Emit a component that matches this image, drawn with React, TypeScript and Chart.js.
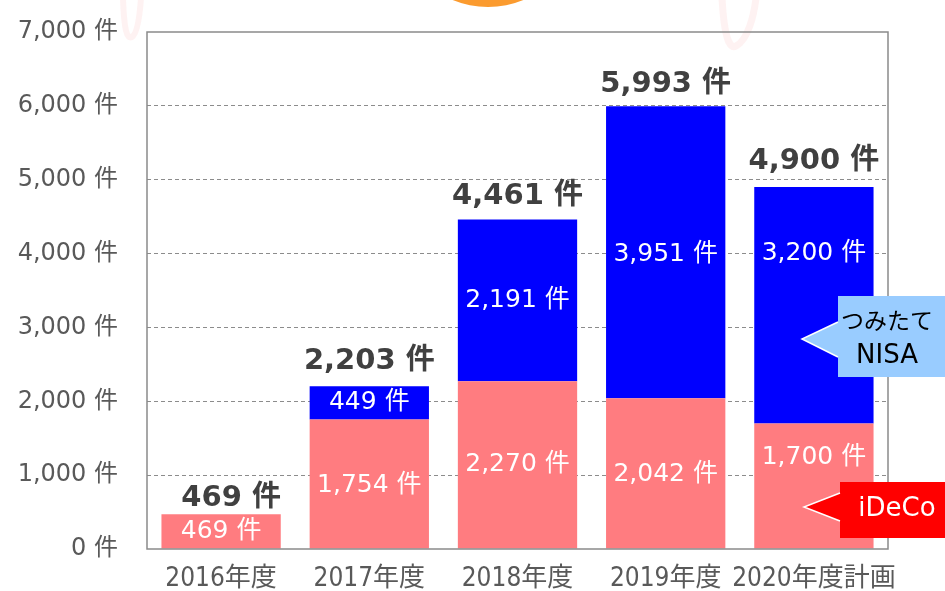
import { useEffect, useRef } from "react";
import { Chart, registerables } from "chart.js";

Chart.register(...registerables);

// ---- data ----
const categories = ["2016年度", "2017年度", "2018年度", "2019年度", "2020年度計画"];
const idecoValues = [469, 1754, 2270, 2042, 1700];
const nisaValues: (number | null)[] = [null, 449, 2191, 3951, 3200];
const totalValues = [469, 2203, 4461, 5993, 4900];
const yTickValues = [0, 1000, 2000, 3000, 4000, 5000, 6000, 7000];
const unit = "件";
const idecoName = "iDeCo";
const nisaNameLines = ["つみたて", "NISA"];

// ---- style ----
const PINK = "#FF7C80";
const BLUE = "#0000FF";
const fmt = (v: number) => v.toLocaleString("en-US") + " " + unit;
const LATIN = "'DejaVu Sans', 'Noto Sans CJK JP', sans-serif";
const innerDy = [
  [0, 2, 0, 1, -28],
  [0, 0, 0, 2, -52],
];
const totalDx = [10, 0, 0, 0, 0];
const totalDy = [-16, -25, -23, -22, -26];

const decorations = {
  id: "decorations",
  beforeDraw(chart: any) {
    const ctx = chart.ctx;
    ctx.save();
    // orange circle at top
    ctx.fillStyle = "#FB9B2F";
    ctx.beginPath();
    ctx.arc(488, -86, 93, 0, Math.PI * 2);
    ctx.fill();
    // faint pink curves
    ctx.strokeStyle = "rgba(250,190,190,0.2)";
    ctx.lineCap = "round";
    ctx.lineWidth = 6;
    ctx.beginPath();
    ctx.moveTo(123, -2);
    ctx.bezierCurveTo(124, 30, 127, 40, 132, 37);
    ctx.bezierCurveTo(138, 33, 140, 12, 141, -2);
    ctx.stroke();
    ctx.lineWidth = 7;
    ctx.beginPath();
    ctx.moveTo(722, -2);
    ctx.bezierCurveTo(724, 35, 729, 50, 736, 46);
    ctx.bezierCurveTo(748, 40, 754, 15, 756, -2);
    ctx.stroke();
    ctx.restore();
  },
};

const frameAndLabels = {
  id: "frameAndLabels",
  afterDatasetsDraw(chart: any) {
    const ctx = chart.ctx;
    const { left, right, top, bottom } = chart.chartArea;
    ctx.save();
    ctx.strokeStyle = "#8a8a8a";
    ctx.lineWidth = 1.5;
    ctx.strokeRect(left, top, right - left, bottom - top);

    ctx.textAlign = "center";
    ctx.textBaseline = "middle";
    ctx.font = "25px " + LATIN;
    ctx.fillStyle = "#FFFFFF";
    chart.data.datasets.forEach((ds: any, di: number) => {
      const meta = chart.getDatasetMeta(di);
      meta.data.forEach((el: any, i: number) => {
        const v = ds.data[i];
        if (v == null) return;
        const p = el.getProps(["x", "y", "base"], true);
        ctx.fillText(fmt(v), p.x, (p.y + p.base) / 2 + innerDy[di][i]);
      });
    });

    ctx.font = "bold 29px " + LATIN;
    ctx.fillStyle = "#404040";
    const xs = chart.scales.x;
    const ys = chart.scales.y;
    totalValues.forEach((t, i) => {
      ctx.fillText(fmt(t), xs.getPixelForValue(i) + totalDx[i], ys.getPixelForValue(t) + totalDy[i]);
    });
    ctx.restore();
  },
  afterDraw(chart: any) {
    const ctx = chart.ctx;
    ctx.save();
    const callout = (bx: number, by: number, bw: number, bh: number, jy1: number, jy2: number, tx: number, ty: number, fill: string) => {
      ctx.fillStyle = fill;
      ctx.beginPath();
      ctx.moveTo(bx, by);
      ctx.lineTo(bx + bw, by);
      ctx.lineTo(bx + bw, by + bh);
      ctx.lineTo(bx, by + bh);
      ctx.lineTo(bx, jy2);
      ctx.lineTo(tx, ty);
      ctx.lineTo(bx, jy1);
      ctx.closePath();
      ctx.fill();
      ctx.strokeStyle = "#FFFFFF";
      ctx.lineWidth = 1.5;
      ctx.beginPath();
      ctx.moveTo(bx, jy1);
      ctx.lineTo(tx, ty);
      ctx.lineTo(bx, jy2);
      ctx.stroke();
    };
    // つみたてNISA callout
    callout(838, 296, 110, 81, 322, 357, 802, 339, "#99CCFF");
    ctx.textAlign = "center";
    ctx.textBaseline = "middle";
    ctx.fillStyle = "#000000";
    ctx.font = "23px 'Noto Sans CJK JP', sans-serif";
    ctx.fillText(nisaNameLines[0], 887, 320);
    ctx.font = "26px " + LATIN;
    ctx.fillText(nisaNameLines[1], 887, 356);
    // iDeCo callout
    callout(840, 482, 110, 56, 493, 521, 804, 507, "#FF0000");
    ctx.fillStyle = "#FFFFFF";
    ctx.font = "26px " + LATIN;
    ctx.fillText(idecoName, 897, 509);
    ctx.restore();
  },
};

export default function App() {
  const ref = useRef<HTMLCanvasElement | null>(null);
  useEffect(() => {
    if (!ref.current) return;
    const chart = new Chart(ref.current, {
      type: "bar",
      data: {
        labels: categories,
        datasets: [
          {
            label: idecoName,
            data: idecoValues,
            backgroundColor: PINK,
            barPercentage: 0.805,
            categoryPercentage: 1,
          },
          {
            label: nisaNameLines.join(""),
            data: nisaValues,
            backgroundColor: BLUE,
            barPercentage: 0.805,
            categoryPercentage: 1,
          },
        ],
      },
      options: {
        animation: false,
        responsive: false,
        layout: { padding: { top: 32, right: 57, left: 0, bottom: 0 } },
        plugins: { legend: { display: false }, tooltip: { enabled: false } },
        scales: {
          x: {
            stacked: true,
            grid: { display: false, drawTicks: false },
            border: { display: false },
            ticks: {
              padding: 15,
              color: "#595959",
              maxRotation: 0,
              minRotation: 0,
              autoSkip: false,
              font: { family: "'Liberation Sans Narrow', 'Arial Narrow', 'DejaVu Sans Condensed', 'Noto Sans CJK JP', sans-serif", size: 26 },
            },
            afterFit(s: any) {
              s.height = 42;
              s.paddingLeft = 0;
              s.paddingRight = 0;
              s.paddingTop = 0;
              s.paddingBottom = 0;
            },
          },
          y: {
            stacked: true,
            min: 0,
            max: 7000,
            afterBuildTicks(s: any) {
              s.ticks = yTickValues.map((v) => ({ value: v }));
            },
            ticks: {
              padding: 29,
              color: "#595959",
              font: { family: LATIN, size: 24 },
              callback: (v: any) => fmt(Number(v)),
            },
            grid: {
              drawTicks: false,
              lineWidth: 1,
              color: (c: any) => (c.tick && (c.tick.value === 0 || c.tick.value === 7000) ? "rgba(0,0,0,0)" : "#8c8c8c"),
            },
            border: { display: false, dash: [4, 3] },
            afterFit(s: any) {
              s.width = 147;
              s.paddingTop = 0;
              s.paddingBottom = 0;
              s.paddingLeft = 0;
              s.paddingRight = 0;
            },
          },
        },
      },
      plugins: [decorations, frameAndLabels],
    } as any);
    return () => chart.destroy();
  }, []);
  return (
    <canvas
      ref={ref}
      width={945}
      height={591}
      style={{ position: "fixed", left: 0, top: 0, width: 945, height: 591, display: "block", background: "#fff" }}
    />
  );
}
